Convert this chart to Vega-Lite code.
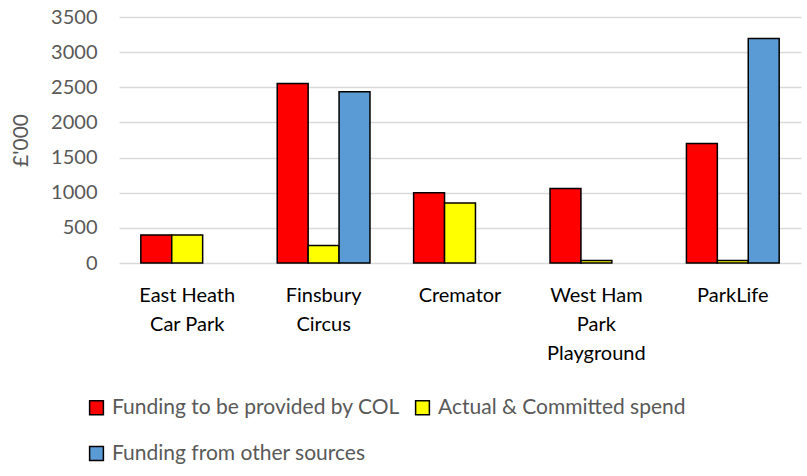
{
  "$schema": "https://vega.github.io/schema/vega-lite/v6.json",
  "autosize": {"type": "none"},
  "padding": {"left": 119, "top": 17, "right": 6, "bottom": 213},
  "width": 682,
  "height": 246,
  "background": "white",
  "config": {
    "font": "Lato",
    "view": {"stroke": null}
  },
  "data": {
    "values": [
      {"project": "East Heath Car Park", "series": "Funding to be provided by COL", "value": 400},
      {"project": "East Heath Car Park", "series": "Actual & Committed spend", "value": 400},
      {"project": "Finsbury Circus", "series": "Funding to be provided by COL", "value": 2555},
      {"project": "Finsbury Circus", "series": "Actual & Committed spend", "value": 248},
      {"project": "Finsbury Circus", "series": "Funding from other sources", "value": 2435},
      {"project": "Cremator", "series": "Funding to be provided by COL", "value": 1000},
      {"project": "Cremator", "series": "Actual & Committed spend", "value": 853},
      {"project": "West Ham Park Playground", "series": "Funding to be provided by COL", "value": 1060},
      {"project": "West Ham Park Playground", "series": "Actual & Committed spend", "value": 35},
      {"project": "ParkLife", "series": "Funding to be provided by COL", "value": 1700},
      {"project": "ParkLife", "series": "Actual & Committed spend", "value": 35},
      {"project": "ParkLife", "series": "Funding from other sources", "value": 3195}
    ]
  },
  "mark": {"type": "bar", "stroke": "black", "strokeWidth": 1.5},
  "encoding": {
    "x": {
      "field": "project",
      "type": "nominal",
      "sort": ["East Heath Car Park", "Finsbury Circus", "Cremator", "West Ham Park Playground", "ParkLife"],
      "scale": {"paddingInner": 0.32, "paddingOuter": 0.16},
      "axis": {
        "title": null,
        "labelAngle": 0,
        "labelFontSize": 20,
        "labelColor": "#000000",
        "labelLineHeight": 29,
        "labelPadding": 32,
        "labelBaseline": "middle",
        "ticks": false,
        "domain": false,
        "labelExpr": "datum.value == 'East Heath Car Park' ? ['East Heath', 'Car Park'] : datum.value == 'Finsbury Circus' ? ['Finsbury', 'Circus'] : datum.value == 'West Ham Park Playground' ? ['West Ham', 'Park', 'Playground'] : datum.value"
      }
    },
    "xOffset": {
      "field": "series",
      "sort": ["Funding to be provided by COL", "Actual & Committed spend", "Funding from other sources"]
    },
    "y": {
      "field": "value",
      "type": "quantitative",
      "scale": {"domain": [0, 3500], "nice": false},
      "axis": {
        "title": "£'000",
        "titleFontSize": 21,
        "titleFontWeight": "normal",
        "titleColor": "#595959",
        "titlePadding": 19,
        "format": "d",
        "values": [0, 500, 1000, 1500, 2000, 2500, 3000, 3500],
        "labelFontSize": 20,
        "labelColor": "#595959",
        "labelPadding": 22,
        "ticks": false,
        "domain": false,
        "gridColor": "#d9d9d9",
        "gridWidth": 1.5
      }
    },
    "color": {
      "field": "series",
      "type": "nominal",
      "sort": ["Funding to be provided by COL", "Actual & Committed spend", "Funding from other sources"],
      "scale": {
        "domain": ["Funding to be provided by COL", "Actual & Committed spend", "Funding from other sources"],
        "range": ["#ff0000", "#ffff00", "#5b9bd5"]
      },
      "legend": {
        "title": null,
        "orient": "none",
        "legendX": -33,
        "legendY": 380,
        "direction": "horizontal",
        "columns": 2,
        "columnPadding": 12,
        "rowPadding": 24,
        "symbolType": "square",
        "symbolSize": 190,
        "symbolStrokeColor": "black",
        "symbolStrokeWidth": 1.5,
        "symbolOffset": 0,
        "labelFontSize": 21,
        "labelColor": "#595959",
        "labelOffset": 5,
        "labelLimit": 500
      }
    }
  }
}
